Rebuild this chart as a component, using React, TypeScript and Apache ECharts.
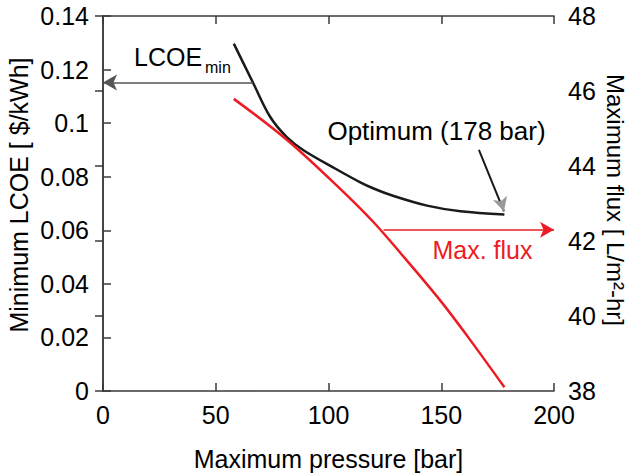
import React, { useEffect, useRef } from "react";
import * as echarts from "echarts";

const pressureTicks = [0, 50, 100, 150, 200];
const lcoeTicks = [0, 0.02, 0.04, 0.06, 0.08, 0.1, 0.12, 0.14];
const fluxTicks = [38, 40, 42, 44, 46, 48];

const lcoePressure = [58, 66.7, 74.1, 81.5, 88.9, 103.7, 114.1, 120, 128.9, 143.7, 158.5, 178];
const lcoeValues = [0.1297, 0.1148, 0.1024, 0.0948, 0.0899, 0.0827, 0.0779, 0.0756, 0.0728, 0.0692, 0.0671, 0.0659];

const fluxPressure = [58, 81.5, 105.2, 120, 131.9, 149.6, 161.5, 178];
const fluxValues = [45.79, 44.7, 43.39, 42.5, 41.68, 40.41, 39.47, 38.1];

const lcoeArrow = [[66.5, 0.1152], [0, 0.1152]];
const optimumArrow = [[166.7, 0.09], [177.8, 0.0671]];
const fluxArrow = [[124.4, 42.3], [200, 42.3]];

const FONT = "'Liberation Sans', Arial, Helvetica, sans-serif";
const RED = "#ed1c24";

export default function App() {
  const ref = useRef<HTMLDivElement>(null);
  useEffect(() => {
    if (!ref.current) return;
    const chart = echarts.init(ref.current, null, { renderer: "svg" });
    const axisLine = { show: true, lineStyle: { color: "#3a3a3a", width: 1.5 } };
    const tick = { show: true, inside: true, length: 8, lineStyle: { color: "#3a3a3a", width: 1.5 } };
    chart.setOption({
      animation: false,
      backgroundColor: "#ffffff",
      textStyle: { fontFamily: FONT },
      grid: { left: 103, right: 75, top: 16, bottom: 84, containLabel: false },
      xAxis: [
        {
          type: "value",
          position: "bottom",
          min: pressureTicks[0],
          max: pressureTicks[pressureTicks.length - 1],
          interval: 50,
          axisLine,
          axisTick: tick,
          splitLine: { show: false },
          axisLabel: { fontSize: 25, color: "#000", margin: 11, fontFamily: FONT },
          name: "Maximum pressure [bar]",
          nameLocation: "middle",
          nameGap: 55,
          nameTextStyle: { fontSize: 25, color: "#000", fontFamily: FONT },
        },
        {
          type: "value",
          position: "top",
          min: 0,
          max: 200,
          interval: 50,
          axisLine,
          axisTick: tick,
          splitLine: { show: false },
          axisLabel: { show: false },
        },
      ],
      yAxis: [
        {
          type: "value",
          position: "left",
          min: lcoeTicks[0],
          max: lcoeTicks[lcoeTicks.length - 1],
          interval: 0.02,
          axisLine,
          axisTick: tick,
          splitLine: { show: false },
          axisLabel: {
            fontSize: 25,
            color: "#000",
            margin: 14,
            fontFamily: FONT,
            formatter: (v: number) => String(+v.toFixed(2)),
          },
        },
        {
          type: "value",
          position: "right",
          min: fluxTicks[0],
          max: fluxTicks[fluxTicks.length - 1],
          interval: 2,
          axisLine,
          axisTick: tick,
          splitLine: { show: false },
          axisLabel: { fontSize: 25, color: "#000", margin: 14, fontFamily: FONT },
        },
      ],
      series: [
        {
          type: "line",
          name: "LCOE",
          xAxisIndex: 0,
          yAxisIndex: 0,
          data: lcoePressure.map((p, i) => [p, lcoeValues[i]]),
          smooth: 0.35,
          showSymbol: false,
          lineStyle: { color: "#1a1a1a", width: 2.5 },
          itemStyle: { color: "#1a1a1a" },
          markLine: {
            silent: true,
            animation: false,
            label: { show: false },
            data: [
              [
                { coord: lcoeArrow[0], symbol: "none", lineStyle: { color: "#555", width: 1.5, type: "solid" } },
                { coord: lcoeArrow[1], symbol: "arrow", symbolSize: [12, 14] },
              ],
              [
                { coord: optimumArrow[0], symbol: "none", lineStyle: { color: "#1a1a1a", width: 2, type: "solid" } },
                { coord: optimumArrow[1], symbol: "none" },
              ],
              [
                { coord: [176.9, 0.0697], symbol: "none", lineStyle: { color: "#999", width: 1, type: "solid" } },
                { coord: optimumArrow[1], symbol: "arrow", symbolSize: [11, 14] },
              ],
            ],
          },
        },
        {
          type: "line",
          name: "Flux",
          xAxisIndex: 0,
          yAxisIndex: 1,
          data: fluxPressure.map((p, i) => [p, fluxValues[i]]),
          smooth: 0.35,
          showSymbol: false,
          lineStyle: { color: RED, width: 2.5 },
          itemStyle: { color: RED },
          markLine: {
            silent: true,
            animation: false,
            label: { show: false },
            data: [
              [
                { coord: fluxArrow[0], symbol: "none", lineStyle: { color: RED, width: 1.5, type: "solid" } },
                { coord: fluxArrow[1], symbol: "arrow", symbolSize: [12, 14] },
              ],
            ],
          },
        },
      ],
      graphic: [
        {
          type: "text",
          x: 134,
          y: 57.3,
          style: { text: "LCOE", font: `25px ${FONT}`, fill: "#000", align: "left", verticalAlign: "middle" },
        },
        {
          type: "text",
          x: 205,
          y: 67.8,
          style: { text: "min", font: `16px ${FONT}`, fill: "#000", align: "left", verticalAlign: "middle" },
        },
        {
          type: "text",
          x: 436.5,
          y: 131,
          style: { text: "Optimum (178 bar)", font: `26px ${FONT}`, fill: "#000", align: "center", verticalAlign: "middle" },
        },
        {
          type: "text",
          x: 482.5,
          y: 249.6,
          style: { text: "Max. flux", font: `25px ${FONT}`, fill: RED, align: "center", verticalAlign: "middle" },
        },
        {
          type: "text",
          x: 18.5,
          y: 195,
          rotation: Math.PI / 2,
          style: { text: "Minimum LCOE [ $/kWh]", font: `25px ${FONT}`, fill: "#000", align: "center", verticalAlign: "middle" },
        },
        {
          type: "text",
          x: 615,
          y: 200,
          rotation: -Math.PI / 2,
          style: { text: "Maximum flux [ L/m²-hr]", font: `24px ${FONT}`, fill: "#000", align: "center", verticalAlign: "middle" },
        },
      ],
    });
    return () => chart.dispose();
  }, []);
  return (
    <div
      ref={ref}
      style={{ position: "fixed", left: 0, top: 0, width: 629, height: 476, background: "#fff" }}
    />
  );
}
